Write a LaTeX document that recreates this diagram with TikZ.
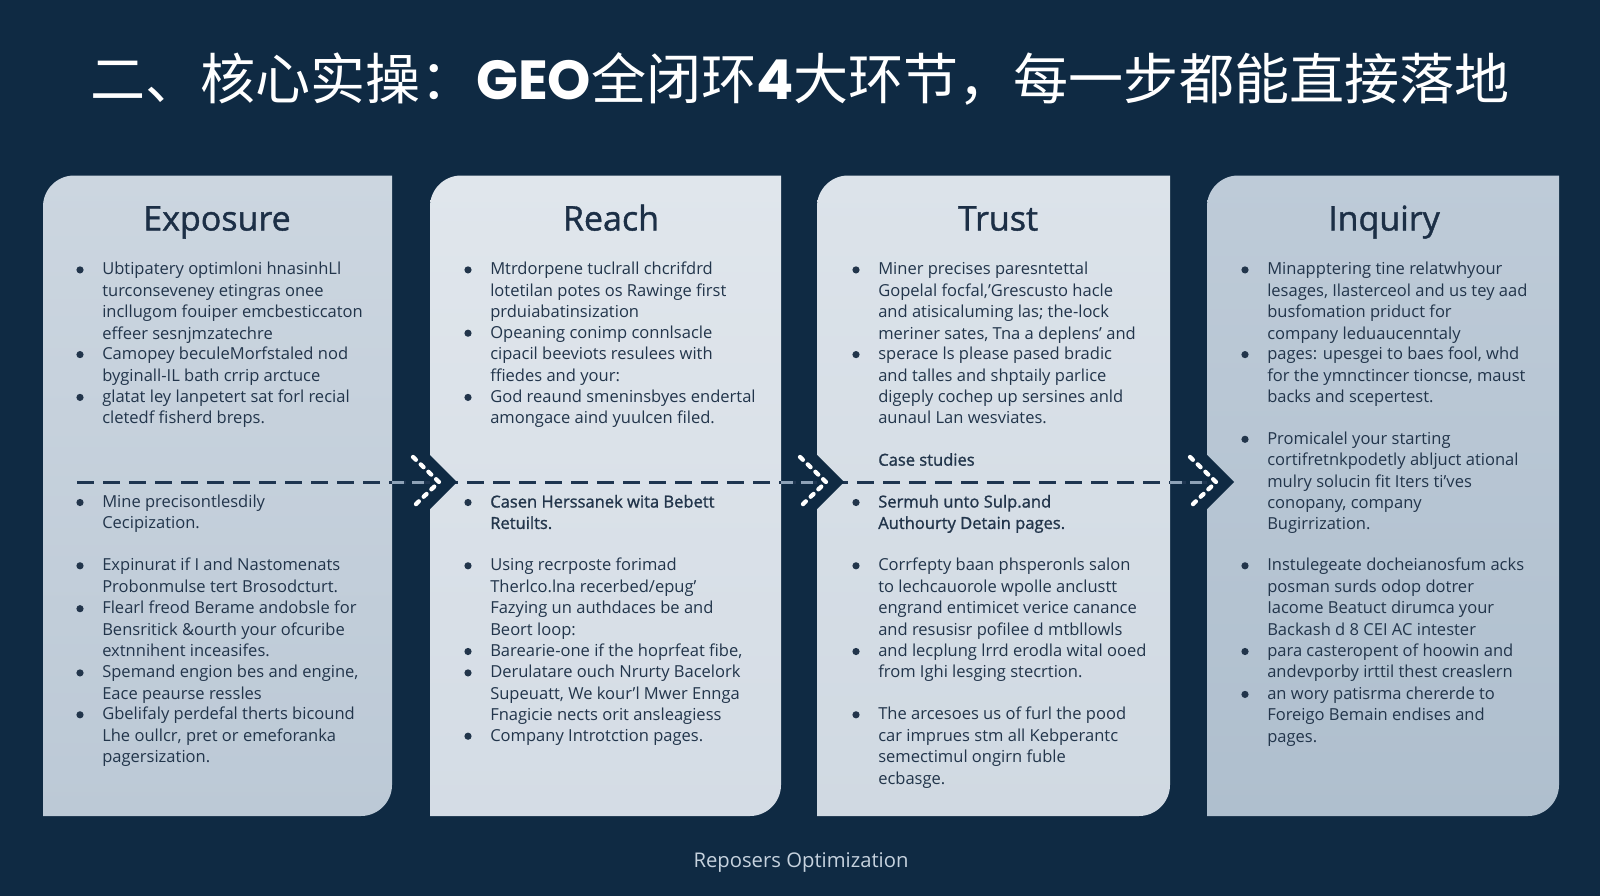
\documentclass[tikz,border=0pt]{standalone}
\usepackage{fontspec}
\setmainfont{Open Sans}
\newfontfamily\cjk{Noto Sans CJK SC}
\newfontfamily\popp{Poppins}
\newfontfamily\semi[FakeBold=1.2]{Open Sans}
\definecolor{bg}{HTML}{0F2A43}
\definecolor{ink}{HTML}{22354B}
\definecolor{head}{HTML}{1C2F46}
\definecolor{pA1}{HTML}{CCD6E0}\definecolor{pA2}{HTML}{BCC9D6}
\definecolor{pB1}{HTML}{E0E6EC}\definecolor{pB2}{HTML}{D4DCE5}
\definecolor{pC1}{HTML}{DCE3EA}\definecolor{pC2}{HTML}{D0D9E2}
\definecolor{pD1}{HTML}{BECBD8}\definecolor{pD2}{HTML}{AFBFCE}
\definecolor{flowc}{HTML}{1E3550}
\definecolor{gapdash}{HTML}{8EA2B7}
\definecolor{foot}{HTML}{C6D2DE}
\tikzset{
  txt/.style={anchor=base west,inner sep=0pt,text=ink,font=\fontsize{12.4}{16.05}\selectfont},
  bul/.style={circle,fill=ink,minimum size=5.4pt,inner sep=0pt},
  semib/.style={font=\semi\fontsize{12.4}{16.05}\selectfont},
  heading/.style={anchor=base,inner sep=0pt,text=head,font=\semi\fontsize{25.5}{30}\selectfont},
  flowline/.style={draw=flowc,line width=2.25pt,dash pattern=on 12.75pt off 6.75pt},
  gapline/.style={draw=gapdash,line width=2.25pt,dash pattern=on 9pt off 6pt},
  chev/.style={draw=white,line width=3.2pt,line cap=round,dash pattern=on 3pt off 5pt},
}
\newcommand\panelshape[6]{\shade[top color=#5,bottom color=#6] (#1,#4) -- (#1,#2+31) .. controls (#1,#2+14) and (#1+14,#2) .. (#1+31,#2) -- (#3,#2) -- (#3,#4-31) .. controls (#3,#4-14) and (#3-14,#4) .. (#3-31,#4) -- cycle;}
\newcommand\bitem[5][]{\node[txt,#1] (#2) at (#3,#4+5.5) {\begin{tabular}[t]{@{}l@{}}#5\end{tabular}};\node[bul] (#2b) at (#3-22,#4+0.5) {};}
\newcommand\chevron[2]{% #1 name, #2 panel left x
  \fill[bg] (#2,455) -- (#2+27,482) -- (#2,509) -- cycle;
  \coordinate (#1) at (#2+27,482);
  \draw[chev] (#2-17,457) -- (#2+9,482) -- (#2-17,507);}
\begin{document}
\begin{tikzpicture}[x=0.75pt,y=-0.75pt]
\fill[bg] (0,0) rectangle (1600,896);
\useasboundingbox (0,0) rectangle (1600,896);
% title
\node[text=white,inner sep=0pt,font=\cjk\fontsize{41.3}{48}\selectfont] (title) at (800,79) {二、核心实操：{\popp\bfseries GEO}全闭环{\popp\bfseries 4}大环节，每一步都能直接落地};
% panels
\panelshape{43}{175.5}{392}{816}{pA1}{pA2}
\panelshape{430}{175.5}{781}{816}{pB1}{pB2}
\panelshape{817}{175.5}{1170}{816}{pC1}{pC2}
\panelshape{1207}{175.5}{1559}{816}{pD1}{pD2}
% headings
\node[heading] (hE) at (217,230.5) {Exposure};
\node[heading] (hR) at (611,230.5) {Reach};
\node[heading] (hT) at (998,230.5) {Trust};
\node[heading] (hI) at (1384,230.5) {Inquiry};
% flow line
\coordinate (d0) at (77,482);
\coordinate (g1) at (392,482);
\coordinate (g2) at (781,482);
\coordinate (g3) at (1170,482);
\coordinate (w1) at (439,482);
\coordinate (w2) at (826,482);
\coordinate (w3) at (1216,482);
\draw[flowline] (d0) -- (w3);
\draw[gapline] (g1) -- (w1);
\draw[gapline] (g2) -- (w2);
\draw[gapline] (g3) -- (w3);
\chevron{c1}{430}
\chevron{c2}{817}
\chevron{c3}{1207}
% Exposure
\bitem{e1}{102}{269.4}{Ubtipatery optimloni hnasinhLl\\turconseveney etingras onee\\incllugom fouiper emcbesticcaton\\effeer sesnjmzatechre}
\bitem{e2}{102}{354.1}{Camopey beculeMorfstaled nod\\byginall-IL bath crrip arctuce}
\bitem{e3}{102}{396.9}{glatat ley lanpetert sat forl recial\\cletedf fisherd breps.}
\bitem{e4}{102}{502.0}{Mine precisontlesdily\\Cecipization.}
\bitem{e5}{102}{565.3}{Expinurat if I and Nastomenats\\Probonmulse tert Brosodcturt.}
\bitem{e6}{102}{608.2}{Flearl freod Berame andobsle for\\Bensritick \&ourth your ofcuribe\\extnnihent inceasifes.}
\bitem{e7}{102}{672.4}{Spemand engion bes and engine,\\Eace peaurse ressles}
\bitem{e8}{102}{714.3}{Gbelifaly perdefal therts bicound\\Lhe oullcr, pret or emeforanka\\pagersization.}
% Reach
\bitem{r1}{490}{269.4}{Mtrdorpene tuclrall chcrifdrd\\lotetilan potes os Rawinge first\\prduiabatinsization}
\bitem{r2}{490}{332.7}{Opeaning conimp connlsacle\\cipacil beeviots resulees with\\ffiedes and your:}
\bitem{r3}{490}{396.9}{God reaund smeninsbyes endertal\\amongace aind yuulcen filed.}
\bitem[semib]{r4}{490}{502.0}{Casen Herssanek wita Bebett\\Retuilts.}
\bitem{r5}{490}{565.3}{Using recrposte forimad\\Therlco.lna recerbed/epug'\\Fazying un authdaces be and\\Beort loop:}
\bitem{r6}{490}{651.0}{Barearie-one if the hoprfeat fibe,}
\bitem{r7}{490}{672.4}{Derulatare ouch Nrurty Bacelork\\Supeuatt, We kour'l Mwer Ennga\\Fnagicie nects orit ansleagiess}
\bitem{r8}{490}{735.7}{Company Introtction pages.}
% Trust
\bitem{t1}{878}{269.4}{Miner precises paresntettal\\Gopelal focfal,'Grescusto hacle\\and atisicaluming las; the-lock\\meriner sates, Tna a deplens' and}
\bitem{t2}{878}{354.1}{sperace ls please pased bradic\\and talles and shptaily parlice\\digeply cochep up sersines anld\\aunaul Lan wesviates.}
\node[txt,semib] (case) at (878,465.7) {Case studies};
\bitem[semib]{t3}{878}{502.0}{Sermuh unto Sulp.and\\Authourty Detain pages.}
\bitem{t4}{878}{565.3}{Corrfepty baan phsperonls salon\\to lechcauorole wpolle anclustt\\engrand entimicet verice canance\\and resusisr pofilee d mtbllowls}
\bitem{t5}{878}{651.0}{and lecplung lrrd erodla wital ooed\\from Ighi lesging stecrtion.}
\bitem{t6}{878}{714.3}{The arcesoes us of furl the pood\\car imprues stm all Kebperantc\\semectimul ongirn fuble\\ecbasge.}
% Inquiry
\bitem{i1}{1267}{269.4}{Minapptering tine relatwhyour\\lesages, Ilasterceol and us tey aad\\busfomation priduct for\\company leduaucenntaly}
\bitem{i2}{1267}{354.1}{pages: upesgei to baes fool, whd\\for the ymnctincer tioncse, maust\\backs and scepertest.}
\bitem{i3}{1267}{438.8}{Promicalel your starting\\cortifretnkpodetly abljuct ational\\mulry solucin fit Iters ti'ves\\conopany, company\\Bugirrization.}
\bitem{i4}{1267}{565.3}{Instulegeate docheianosfum acks\\posman surds odop dotrer\\Iacome Beatuct dirumca your\\Backash d 8 CEI AC intester}
\bitem{i5}{1267}{651.0}{para casteropent of hoowin and\\andevporby irttil thest creaslern}
\bitem{i6}{1267}{693.9}{an wory patisrma chererde to\\Foreigo Bemain endises and\\pages.}
% footer
\node[text=foot,inner sep=0pt,font=\fontsize{15.2}{18}\selectfont] (foot) at (801,862) {Reposers Optimization};
\end{tikzpicture}
\end{document}
